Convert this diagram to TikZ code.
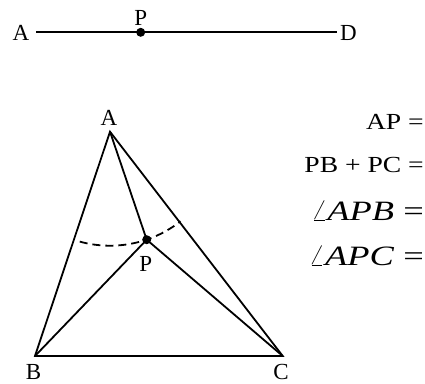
\documentclass[tikz,border=0pt]{standalone}
\usepackage{fontspec}
\setmainfont{Liberation Serif}
\newfontfamily\widefont[FakeStretch=1.2]{Liberation Serif}
\newfontfamily\widerfont[FakeStretch=1.3]{Liberation Serif}
\begin{document}
\begin{tikzpicture}[x=1pt,y=-1pt,
  seg/.style={line width=1.8pt},
  arcd/.style={line width=1.8pt,dash pattern=on 8pt off 5pt},
  pdot/.style={circle,fill=black,inner sep=0pt,minimum size=9pt},
  lab/.style={inner sep=0pt,anchor=base,font=\fontsize{23}{27}\selectfont},
  eq/.style={inner sep=0pt,anchor=base east,font=\widefont\fontsize{23}{27}\selectfont},
  eqbig/.style={inner sep=0pt,anchor=base east,font=\widerfont\fontsize{28}{32}\selectfont}]
\useasboundingbox (0,0) rectangle (425,383);
% top segment
\coordinate (tA) at (36,32.3);
\coordinate (tD) at (336.5,32.3);
\coordinate (tP) at (140.7,32.3);
\draw[seg] (tA) -- (tD);
\node[pdot] (tPd) at (tP) {};
\node[lab] (ltA) at (21,40.5) {A};
\node[lab] (ltD) at (348.5,40.5) {D};
\node[lab] (ltP) at (140.7,25) {P};
% triangle
\coordinate (A) at (110,131.7);
\coordinate (B) at (35,356);
\coordinate (C) at (282.7,356);
\coordinate (P) at (146.7,239.7);
\draw[seg,line join=miter] (A) -- (B) -- (C) -- cycle;
\draw[seg] (A) -- (P);
\draw[seg] (B) -- (P) -- (C);
\draw[arcd] (A) ++(105.4:114) arc[start angle=105.4,end angle=51.8,radius=114];
\node[pdot] (Pd) at (P) {};
\node[lab] (lA) at (109,125.5) {A};
\node[lab] (lB) at (33.5,379) {B};
\node[lab] (lC) at (281,379) {C};
\node[lab] (lP) at (145.7,271) {P};
% equations
\node[eq] (e1) at (424,129) {AP =};
\node[eq] (e2) at (424,172) {PB + PC =};
\node[eqbig] (e3) at (424,220) {$\angle$\textit{APB} =};
\node[eqbig] (e4) at (424,265) {$\angle$\textit{APC} =};
\end{tikzpicture}
\end{document}
